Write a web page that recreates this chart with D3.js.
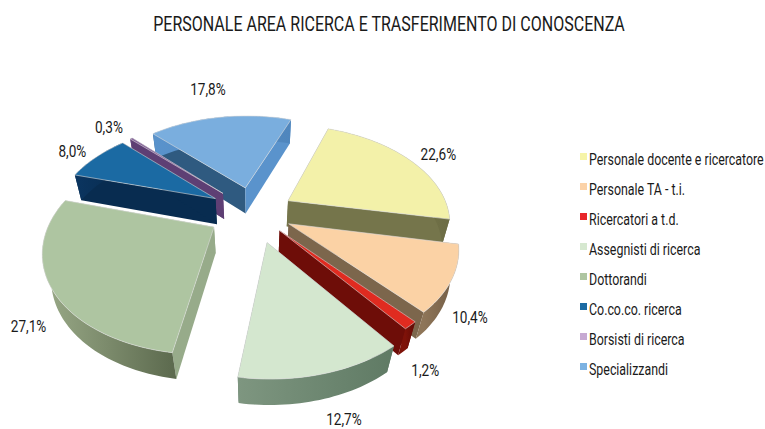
<!DOCTYPE html>
<html><head><meta charset="utf-8">
<script src="https://cdn.jsdelivr.net/npm/d3@7"></script>
<style>html,body{margin:0;background:#fff}svg{display:block}text{font-family:Roboto,"Liberation Sans",sans-serif;fill:#1a1a1a}</style>
</head><body><svg id="c" width="765" height="429"></svg>
<script>
const categories=["Personale docente e ricercatore","Personale TA - t.i.","Ricercatori a t.d.","Assegnisti di ricerca","Dottorandi","Co.co.co. ricerca","Borsisti di ricerca","Specializzandi"];
const values=[22.6,10.4,1.2,12.7,27.1,8.0,0.3,17.8];
const labels=["22,6%","10,4%","1,2%","12,7%","27,1%","8,0%","0,3%","17,8%"];
const title="PERSONALE AREA RICERCA E TRASFERIMENTO DI CONOSCENZA";
const topColors=["#f3f1a9","#fbd2a5","#e02b20","#d4e7cf","#aec5a1","#1b6aa3","#7e5a95","#7aaede"];
const legendColors=["#f6f4a8","#fbd2a8","#e8262a","#d6e8d0","#aec5a1","#1b6aa3","#c6a9d2","#7cb2e2"];
const startWall=["#75754b","#7c664c","#6e0d08","#62796a","#97ab8a","#082c50","#5e3f74","#2f5a80"];
const endWall=["#75754b","#7c664c","#6e0d08","#62796a","#97ab8a","#082c50","#5e3f74","#5a93cc"];
const arcLight=["#8a8a58","#8e7558","#7e1209","#7e9680","#9aaa88","#0b3560","#6a4a80","#5a93cc"];
const arcDark=["#6c6c44","#6f5a43","#600b06","#5f7a64","#5d6b4f","#082c50","#5e3f74","#4f86bd"];
const drawOrder=[7,6,5,0,4,1,2,3];
const explodeBy=[40,39,39,50,46,46,46,44];
const labelNudge=[[18,-13],[1,18],[0,18],[14,12],[-6,17],[-14,-13],[-15,-17],[-10,-32]];

const cx=254,cy=212,R=161,k=.59,D=5*R,depth=27,lean=1.2;
const svg=d3.select("#c");
function condensed(sel,x,y,sx){return sel.attr("transform",`translate(${x},${y}) scale(${sx},1)`);}
condensed(svg.append("text"),389,31,.763).attr("text-anchor","middle").attr("font-size",21).text(title);

const pie=d3.pie().value(d=>d).sort(null).startAngle(20*Math.PI/180).endAngle((20+360)*Math.PI/180);
const arcs=pie(values);
function proj(X,Y,Z){ // X right, Y toward the viewer, Z up
  const s=D/(D-Y-Z*lean);
  return [cx+X*s, cy+k*Y*s-Z*s];
}
function at(a,t,r,z,i){
  const m=(a.startAngle+a.endAngle)/2, off=explodeBy[i];
  return proj(off*Math.sin(m)+r*Math.sin(t),-(off*Math.cos(m)+r*Math.cos(t)),z);
}
const line=d3.line();
const defs=svg.append("defs");
const g=svg.append("g");
const textLayer=[];
drawOrder.forEach(i=>{
  const a=arcs[i], n=Math.max(4,Math.ceil((a.endAngle-a.startAngle)*40));
  const ts=d3.range(n+1).map(j=>a.startAngle+(a.endAngle-a.startAngle)*j/n);
  const apexT=at(a,0,0,0,i), apexB=at(a,0,0,-depth,i);
  const topArc=ts.map(t=>at(a,t,R,0,i)), botArc=ts.map(t=>at(a,t,R,-depth,i));
  const id="arcg"+i;
  const xs=topArc.map(p=>p[0]);
  const gr=defs.append("linearGradient").attr("id",id).attr("gradientUnits","userSpaceOnUse")
    .attr("x1",d3.min(xs)).attr("x2",d3.max(xs)).attr("y1",0).attr("y2",0);
  gr.append("stop").attr("offset",0).attr("stop-color",arcLight[i]);
  gr.append("stop").attr("offset",1).attr("stop-color",arcDark[i]);
  const e=topArc.length-1;
  g.append("path").attr("d",line([apexT,topArc[0],botArc[0],apexB])+"Z").attr("fill",startWall[i]);
  g.append("path").attr("d",line([apexT,topArc[e],botArc[e],apexB])+"Z").attr("fill",endWall[i]);
  g.append("path").attr("d",line(topArc.concat(botArc.slice().reverse()))+"Z").attr("fill",`url(#${id})`);
  g.append("path").attr("d",line([apexT].concat(topArc))+"Z").attr("fill",topColors[i]).attr("stroke","#dcdcdc").attr("stroke-width",.6);
  const m=(a.startAngle+a.endAngle)/2;
  const lp=at(a,m,R*1.12,-depth/2,i);
  textLayer.push([lp[0]+labelNudge[i][0],lp[1]+labelNudge[i][1]+5,labels[i]]);
});
svg.append("g").selectAll("text").data(textLayer).join("text")
  .attr("transform",d=>`translate(${d[0]},${d[1]}) scale(.85,1)`).attr("text-anchor","middle").attr("font-size",16).text(d=>d[2]);
const ly=d3.scalePoint().domain(categories).range([160,370]);
const lg=svg.append("g").selectAll("g").data(categories).join("g").attr("transform",d=>`translate(580,${ly(d)})`);
lg.append("rect").attr("y",-7).attr("width",7).attr("height",7).attr("fill",(d,i)=>legendColors[i]);
lg.append("text").attr("transform","translate(9,5) scale(.775,1)").attr("font-size",16).text(d=>d);
</script></body></html>
